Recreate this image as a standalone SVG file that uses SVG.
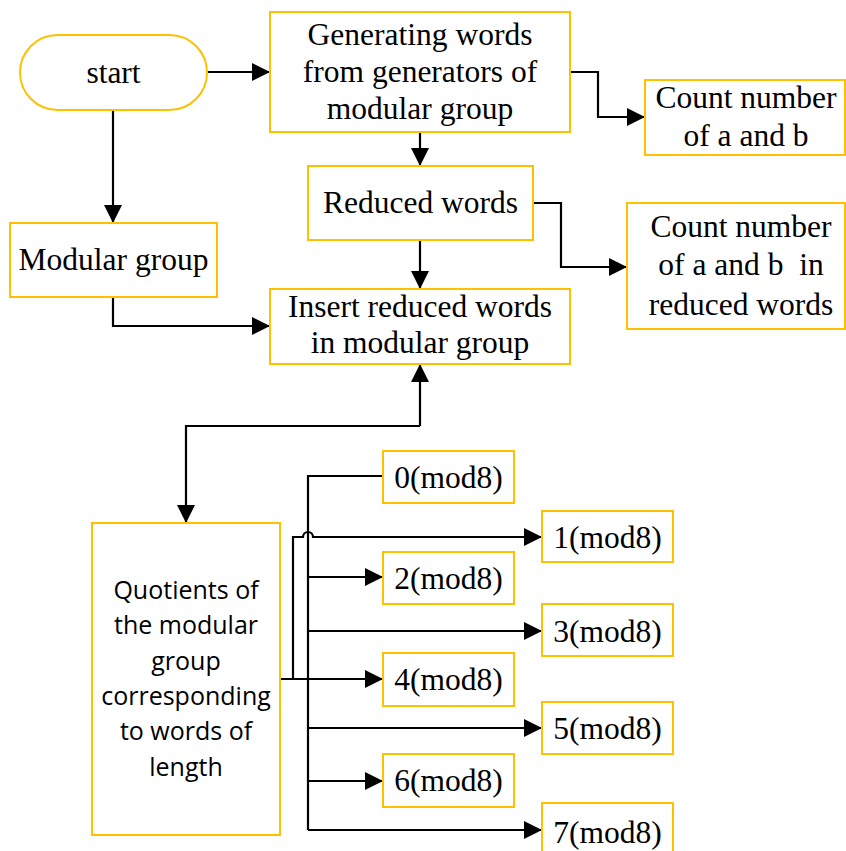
<svg xmlns="http://www.w3.org/2000/svg" width="846" height="851" viewBox="0 0 846 851">
  <style>
    .box { fill: #ffffff; stroke: #FFC000; stroke-width: 2; }
    .serif { font-family: "Liberation Serif", "Times New Roman", serif; font-size: 31.5px; fill: #000; text-anchor: middle; }
    .sans { font-family: "Open Sans", "Noto Sans", sans-serif; font-size: 25px; fill: #000; text-anchor: middle; }
    .wire { fill: none; stroke: #000; stroke-width: 2.2; }
    .arrow { fill: none; stroke: #000; stroke-width: 2.2; marker-end: url(#head); }
  </style>
  <defs>
    <marker id="head" viewBox="0 0 18 18" refX="18" refY="9" markerWidth="18" markerHeight="18" markerUnits="userSpaceOnUse" orient="auto">
      <path d="M0,0 L18,9 L0,18 Z" fill="#000"/>
    </marker>
  </defs>
  <rect width="846" height="851" fill="#ffffff"/>

  <!-- connectors -->
  <g id="connectors">
    <path class="arrow" d="M207,72 H270"/>
    <path class="arrow" d="M113,110 V223"/>
    <path class="arrow" d="M420,132 V166"/>
    <path class="arrow" d="M570,72 H598 V117 H645"/>
    <path class="arrow" d="M533,203 H561 V267 H627"/>
    <path class="arrow" d="M420,240 V289"/>
    <path class="arrow" d="M113,297 V326 H270"/>
    <!-- two-way link between insert step and quotients -->
    <path class="arrow" d="M420,426 V364"/>
    <path class="arrow" d="M420,426 H186 V523"/>
    <!-- trunk from quotients box -->
    <path class="arrow" d="M280,679 H383"/>
    <path class="arrow" d="M293,679 V537 H303 A5,5 0 0 1 313,537 H542"/>
    <!-- vertical bus for the remaining residues -->
    <path class="wire" d="M383,476 H308 V830"/>
    <path class="arrow" d="M308,577 H383"/>
    <path class="arrow" d="M308,631 H542"/>
    <path class="arrow" d="M308,728 H542"/>
    <path class="arrow" d="M308,781 H383"/>
    <path class="arrow" d="M308,830 H542"/>
  </g>

  <g id="start">
    <rect class="box" x="20" y="35" width="187" height="75" rx="37.5" ry="37.5"/>
    <text class="serif" x="113.5" y="83">start</text>
  </g>

  <g id="generating">
    <rect class="box" x="270" y="12" width="300" height="120"/>
    <text class="serif" x="420" y="45">Generating words</text>
    <text class="serif" x="420" y="82">from generators of</text>
    <text class="serif" x="420" y="119">modular group</text>
  </g>

  <g id="count-ab">
    <rect class="box" x="645" y="80" width="200" height="75"/>
    <text class="serif" x="746" y="108">Count number</text>
    <text class="serif" x="746" y="146">of a and b</text>
  </g>

  <g id="reduced">
    <rect class="box" x="308" y="166" width="225" height="74"/>
    <text class="serif" x="420.5" y="213">Reduced words</text>
  </g>

  <g id="count-ab-reduced">
    <rect class="box" x="627" y="203" width="218" height="126"/>
    <text class="serif" x="741" y="237">Count number</text>
    <text class="serif" x="741" y="275" xml:space="preserve">of a and b  in</text>
    <text class="serif" x="741" y="315">reduced words</text>
  </g>

  <g id="modular-group">
    <rect class="box" x="10" y="223" width="207" height="74"/>
    <text class="serif" x="113.5" y="270">Modular group</text>
  </g>

  <g id="insert">
    <rect class="box" x="270" y="289" width="300" height="75"/>
    <text class="serif" x="420" y="317">Insert reduced words</text>
    <text class="serif" x="420" y="353">in modular group</text>
  </g>

  <g id="quotients">
    <rect class="box" x="92" y="523" width="188" height="312"/>
    <text class="sans" x="186" y="599">Quotients of</text>
    <text class="sans" x="186" y="634">the modular</text>
    <text class="sans" x="186" y="670">group</text>
    <text class="sans" x="186" y="705">corresponding</text>
    <text class="sans" x="186" y="740">to words of</text>
    <text class="sans" x="186" y="776">length</text>
  </g>

  <g id="mod0">
    <rect class="box" x="383" y="451" width="131" height="52"/>
    <text class="serif" x="448.5" y="488">0(mod8)</text>
  </g>
  <g id="mod1">
    <rect class="box" x="542" y="511" width="131" height="51"/>
    <text class="serif" x="607.5" y="548">1(mod8)</text>
  </g>
  <g id="mod2">
    <rect class="box" x="383" y="552" width="131" height="52"/>
    <text class="serif" x="448.5" y="589">2(mod8)</text>
  </g>
  <g id="mod3">
    <rect class="box" x="542" y="604" width="131" height="52"/>
    <text class="serif" x="607.5" y="642">3(mod8)</text>
  </g>
  <g id="mod4">
    <rect class="box" x="383" y="653" width="131" height="53"/>
    <text class="serif" x="448.5" y="690">4(mod8)</text>
  </g>
  <g id="mod5">
    <rect class="box" x="542" y="702" width="131" height="52"/>
    <text class="serif" x="607.5" y="739">5(mod8)</text>
  </g>
  <g id="mod6">
    <rect class="box" x="383" y="754" width="131" height="53"/>
    <text class="serif" x="448.5" y="791">6(mod8)</text>
  </g>
  <g id="mod7">
    <rect class="box" x="542" y="803" width="131" height="60"/>
    <text class="serif" x="607.5" y="843">7(mod8)</text>
  </g>
</svg>
